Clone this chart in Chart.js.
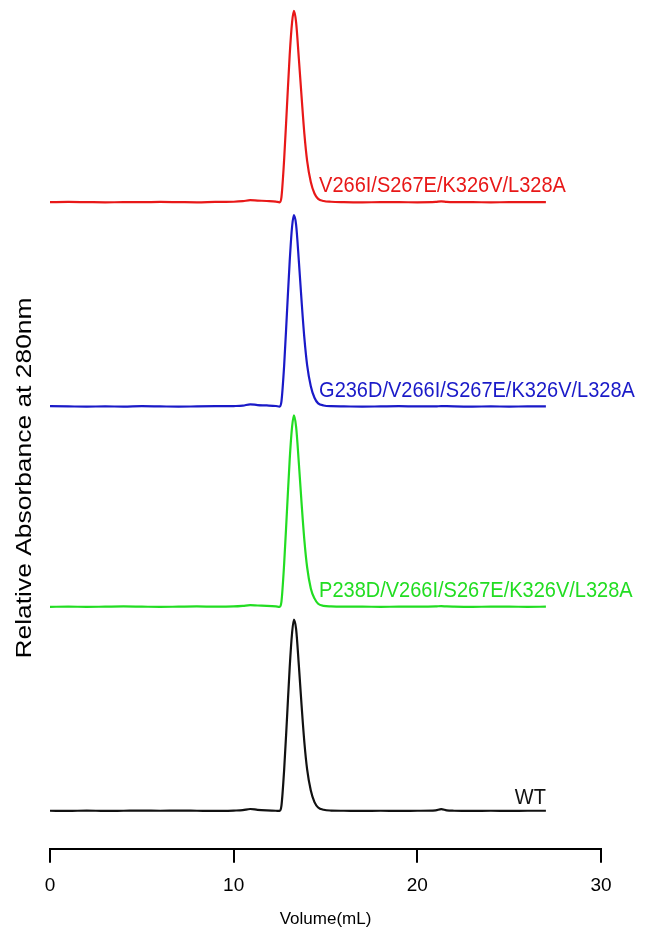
<!DOCTYPE html>
<html>
<head>
<meta charset="utf-8">
<script src="https://cdn.jsdelivr.net/npm/chart.js@4/dist/chart.umd.min.js"></script>
<style>
  html, body { margin: 0; padding: 0; background: #fff; }
  #wrap { width: 646px; height: 940px; }
</style>
</head>
<body>
<div id="wrap"><canvas id="sec"></canvas></div>
<script>
// elution volume (mL), shared by all traces
const volume = [0, 1, 2, 3, 4, 5, 6, 7, 8, 9, 10, 10.5, 10.9, 11.3, 11.8, 12.3, 12.5, 12.6, 12.75, 12.9, 13.05, 13.18, 13.28, 13.4, 13.55, 13.7, 13.85, 14.0, 14.2, 14.4, 14.6, 14.9, 15.3, 16, 17, 18, 19, 20, 21, 21.3, 21.6, 22, 23, 24, 25, 26, 27];

// relative absorbance, peak normalised to 1
const wt = [0.005, 0.004, 0.006, 0.004, 0.005, 0.006, 0.005, 0.006, 0.005, 0.004, 0.006, 0.008, 0.014, 0.010, 0.007, 0.005, 0.004, 0.03, 0.22, 0.48, 0.75, 0.93, 1.0, 0.95, 0.76, 0.55, 0.36, 0.22, 0.11, 0.05, 0.022, 0.010, 0.006, 0.005, 0.004, 0.005, 0.004, 0.005, 0.007, 0.013, 0.007, 0.005, 0.004, 0.005, 0.004, 0.005, 0.005];
const p238d = [0.004, 0.005, 0.004, 0.005, 0.006, 0.005, 0.004, 0.005, 0.006, 0.005, 0.006, 0.009, 0.013, 0.011, 0.009, 0.006, 0.004, 0.03, 0.23, 0.50, 0.77, 0.94, 1.0, 0.94, 0.75, 0.54, 0.35, 0.21, 0.10, 0.048, 0.02, 0.009, 0.006, 0.005, 0.005, 0.004, 0.005, 0.005, 0.006, 0.008, 0.006, 0.005, 0.004, 0.005, 0.005, 0.004, 0.005];
const g236d = [0.006, 0.005, 0.004, 0.005, 0.004, 0.006, 0.005, 0.004, 0.005, 0.006, 0.007, 0.009, 0.016, 0.012, 0.010, 0.007, 0.004, 0.03, 0.22, 0.49, 0.76, 0.94, 1.0, 0.95, 0.76, 0.55, 0.36, 0.22, 0.11, 0.05, 0.021, 0.010, 0.006, 0.005, 0.004, 0.005, 0.006, 0.005, 0.005, 0.007, 0.006, 0.005, 0.004, 0.005, 0.004, 0.005, 0.005];
const v266i = [0.005, 0.006, 0.005, 0.004, 0.005, 0.005, 0.006, 0.005, 0.004, 0.006, 0.007, 0.010, 0.015, 0.013, 0.011, 0.008, 0.004, 0.03, 0.23, 0.50, 0.77, 0.94, 1.0, 0.94, 0.75, 0.55, 0.36, 0.22, 0.11, 0.05, 0.022, 0.011, 0.007, 0.005, 0.004, 0.005, 0.005, 0.004, 0.006, 0.009, 0.006, 0.005, 0.005, 0.004, 0.005, 0.005, 0.005];

const traceNames = ["WT", "P238D/V266I/S267E/K326V/L328A", "G236D/V266I/S267E/K326V/L328A", "V266I/S267E/K326V/L328A"];
const traceValues = [wt, p238d, g236d, v266i];
const traceColors = ["#111111", "#22dd22", "#1a1ac8", "#e81818"];
// vertical stacking offset of each trace, in peak units
const traceOffsets = [0, 1.062, 2.104, 3.167];
// where each name sits: [volume, height above its baseline, alignment]
const nameAnchors = [[27.0, 0.04, "right"], [14.65, 0.055, "left"], [14.65, 0.055, "left"], [14.65, 0.058, "left"]];
const yTitle = "Relative Absorbance at 280nm";

const FONT = "'Liberation Sans', Arial, sans-serif";

const datasets = traceValues.map((vals, i) => ({
  label: traceNames[i],
  data: vals.map((v, j) => ({x: volume[j], y: v + traceOffsets[i]})),
  borderColor: traceColors[i],
  borderWidth: 2.2,
  pointRadius: 0,
  fill: false,
  cubicInterpolationMode: "monotone"
}));

// trace names and the y title; the source figure is slightly taller than wide, so text gets a small stretch
const traceLabels = {
  id: "traceLabels",
  afterDatasetsDraw(chart) {
    const {ctx, scales: {x, y}} = chart;
    ctx.save();
    ctx.font = "20px " + FONT;
    ctx.textBaseline = "alphabetic";
    traceNames.forEach((name, i) => {
      const a = nameAnchors[i];
      ctx.save();
      ctx.translate(x.getPixelForValue(a[0]), y.getPixelForValue(traceOffsets[i] + a[1]));
      ctx.scale(1, 1.1);
      ctx.fillStyle = traceColors[i];
      ctx.textAlign = a[2];
      ctx.fillText(name, 0, 0);
      ctx.restore();
    });
    ctx.save();
    ctx.translate(25, 478);
    ctx.scale(1, 1.2);
    ctx.rotate(-Math.PI / 2);
    ctx.font = "22px " + FONT;
    ctx.fillStyle = "#000";
    ctx.textAlign = "center";
    ctx.textBaseline = "middle";
    ctx.fillText(yTitle, 0, 0);
    ctx.restore();
    ctx.restore();
  }
};

new Chart(document.getElementById("sec"), {
  type: "line",
  data: {datasets},
  plugins: [traceLabels],
  options: {
    responsive: true, maintainAspectRatio: false, animation: false,
    layout: {padding: {left: 50, right: 45, top: 4, bottom: 0}},
    plugins: {legend: {display: false}, tooltip: {enabled: false}},
    scales: {
      x: {
        type: "linear", min: 0, max: 30,
        ticks: {stepSize: 10, color: "#000", padding: 12, font: {family: FONT, size: 19}},
        grid: {drawOnChartArea: false, drawTicks: true, tickLength: 14, color: "#000", lineWidth: 2},
        border: {display: true, color: "#000", width: 2},
        title: {display: true, text: "Volume(mL)", color: "#000", font: {family: FONT, size: 17}, padding: {top: 0, bottom: 10}}
      },
      y: {
        display: false,
        min: -0.193, max: 4.203
      }
    }
  }
});
</script>
</body>
</html>
